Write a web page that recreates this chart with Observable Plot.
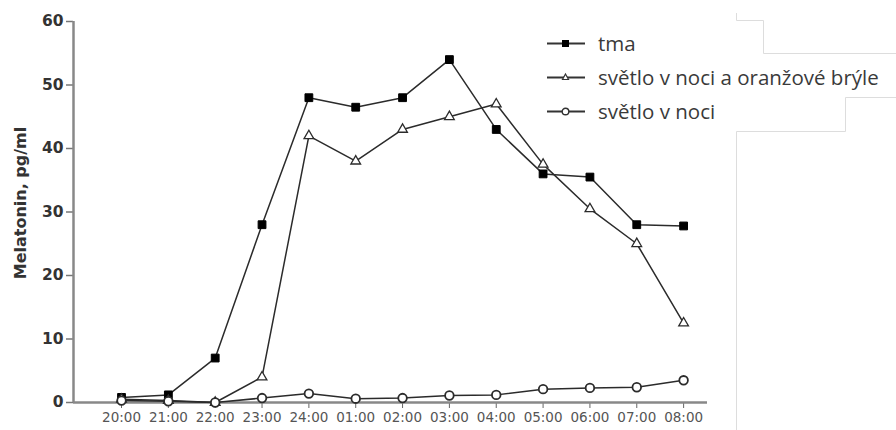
<!DOCTYPE html>
<html>
<head>
<meta charset="utf-8">
<script src="https://cdn.jsdelivr.net/npm/d3@7"></script>
<script src="https://cdn.jsdelivr.net/npm/@observablehq/plot@0.6"></script>
<style>
  html, body { margin: 0; padding: 0; background: #fff; }
  #wrap { position: relative; width: 896px; height: 430px; overflow: hidden; }
  #legend { position: absolute; left: 546px; top: 26px; font-family: "Open Sans", sans-serif; font-size: 20.5px; color: #3a3a3a; }
  .row { display: flex; align-items: center; height: 34px; }
  .row svg { margin-right: 12px; }
  #deco { position: absolute; left: 0; top: 0; pointer-events: none; }
</style>
</head>
<body>
<div id="wrap"></div>
<script>
const times = ["20:00","21:00","22:00","23:00","24:00","01:00","02:00","03:00","04:00","05:00","06:00","07:00","08:00"];
const tma = [0.8, 1.2, 7, 28, 48, 46.5, 48, 54, 43, 36, 35.5, 28, 27.8];
const svetloBryle = [0.5, 0.3, 0, 4, 42, 38, 43, 45, 47, 37.5, 30.5, 25, 12.5];
const svetlo = [0.3, 0.2, 0, 0.7, 1.4, 0.6, 0.7, 1.1, 1.2, 2.1, 2.3, 2.4, 3.5];
const seriesNames = ["tma", "světlo v noci a oranžové brýle", "světlo v noci"];
const yTicks = [0, 10, 20, 30, 40, 50, 60];
const yLabel = "Melatonin, pg/ml";

const toRows = (vals, name) => vals.map((v, i) => ({i, t: times[i], v, s: name}));
const dTma = toRows(tma, seriesNames[0]);
const dBryle = toRows(svetloBryle, seriesNames[1]);
const dSvetlo = toRows(svetlo, seriesNames[2]);

const ink = "#2b2b2b";
const chart = Plot.plot({
  width: 896,
  height: 430,
  marginLeft: 73,
  marginRight: 189,
  marginTop: 21,
  marginBottom: 28,
  style: {background: "transparent", fontFamily: "'DejaVu Sans', sans-serif", overflow: "visible"},
  x: {type: "linear", domain: [-1.025, 12.51]},
  y: {domain: [0, 60]},
  marks: [
    Plot.axisY({ticks: yTicks, tickSize: 7, tickPadding: 3, fontSize: 15.5, fontWeight: "bold", color: "#333", stroke: "#777", strokeWidth: 1.5,
      label: null}),
    Plot.text([yLabel], {text: d => d, frameAnchor: "left", textAnchor: "middle", rotate: -90, dx: -53, dy: -9, fontSize: 16, fontWeight: "bold", fill: "#333"}),
    Plot.axisX({ticks: times.map((_, i) => i), tickFormat: i => times[i], tickSize: 6, tickPadding: 4, fontSize: 13.5, color: "#555", stroke: "#666", label: null}),
    Plot.ruleY([0], {stroke: "#888", strokeWidth: 2.5}),
    Plot.ruleX([-1.025], {stroke: "#888", strokeWidth: 2.5}),
    Plot.line(dSvetlo, {x: "i", y: "v", stroke: ink, strokeWidth: 1.5}),
    Plot.line(dBryle, {x: "i", y: "v", stroke: ink, strokeWidth: 1.5}),
    Plot.line(dTma, {x: "i", y: "v", stroke: ink, strokeWidth: 1.5}),
    Plot.dot(dTma, {x: "i", y: "v", symbol: "square", r: 4.4, fill: "#000", stroke: "#000", strokeWidth: 1}),
    Plot.dot(dBryle, {x: "i", y: "v", symbol: "triangle", r: 3.6, fill: "#fff", stroke: ink, strokeWidth: 1.3}),
    Plot.dot(dSvetlo, {x: "i", y: "v", symbol: "circle", r: 4.3, fill: "#fff", stroke: ink, strokeWidth: 1.8})
  ]
});
document.getElementById("wrap").appendChild(chart);

// legend
const legend = document.createElement("div");
legend.id = "legend";
const symSvg = (kind) => {
  let m = "";
  if (kind === 0) m = '<rect x="16" y="5" width="7" height="7" fill="#000"/>';
  if (kind === 1) m = '<path d="M19.5,5 L22.5,10.5 L16.5,10.5 Z" fill="#fff" stroke="#333" stroke-width="1.2"/>';
  if (kind === 2) m = '<circle cx="19.5" cy="8.5" r="3.3" fill="#fff" stroke="#333" stroke-width="1.4"/>';
  return '<svg width="40" height="17"><line x1="1" y1="8.5" x2="39" y2="8.5" stroke="#333" stroke-width="1.8"/>' + m + '</svg>';
};
seriesNames.forEach((n, k) => {
  const row = document.createElement("div");
  row.className = "row";
  row.innerHTML = symSvg(k) + '<span>' + n + '</span>';
  legend.appendChild(row);
});
document.getElementById("wrap").appendChild(legend);

// faint screenshot frame lines present in the reference
const deco = document.createElementNS("http://www.w3.org/2000/svg", "svg");
deco.setAttribute("id", "deco");
deco.setAttribute("width", 896);
deco.setAttribute("height", 430);
deco.innerHTML = '<path d="M736.5,13 V20.5 H763.5 V53.5 H896" fill="none" stroke="#ddd" stroke-width="1"/>' +
  '<path d="M896,97.5 H845.5 V131.5 H736.5 V430" fill="none" stroke="#ddd" stroke-width="1"/>';
document.getElementById("wrap").appendChild(deco);
</script>
</body>
</html>
